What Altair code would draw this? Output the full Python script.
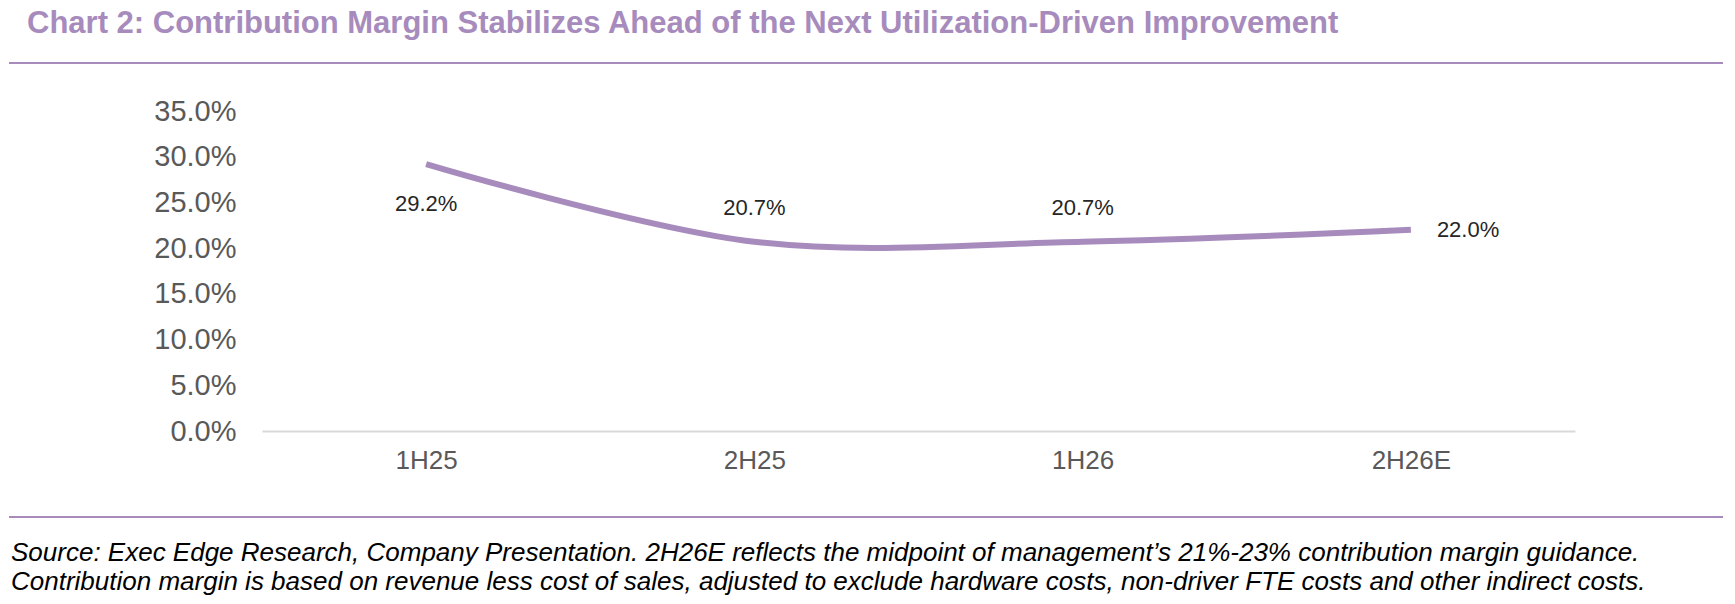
import altair as alt
import pandas as pd

periods = ["1H25", "2H25", "1H26", "2H26E"]
margin = [29.2, 20.7, 20.7, 22.0]
labels = ["29.2%", "20.7%", "20.7%", "22.0%"]

title_text = "Chart 2: Contribution Margin Stabilizes Ahead of the Next Utilization-Driven Improvement"
note_1 = ("Source: Exec Edge Research, Company Presentation. 2H26E reflects the midpoint of management\u2019s "
          "21%-23% contribution margin guidance.")
note_2 = ("Contribution margin is based on revenue less cost of sales, adjusted to exclude hardware costs, "
          "non-driver FTE costs and other indirect costs.")

df = pd.DataFrame({"period": periods, "margin": margin, "label": labels})

purple = "#a78bbd"
FONT = "Liberation Sans"

x = alt.X("period:N", sort=periods, title=None,
          scale=alt.Scale(paddingInner=0, paddingOuter=0),
          axis=alt.Axis(labelAngle=0, labelFontSize=26, labelColor="#595959", labelFont=FONT,
                        ticks=False, domain=True, domainColor="#d9d9d9", domainWidth=2,
                        labelPadding=16))
y = alt.Y("margin:Q", title=None, scale=alt.Scale(domain=[0, 35]),
          axis=alt.Axis(values=[0, 5, 10, 15, 20, 25, 30, 35], labelExpr="format(datum.value/100, '.1%')",
                        labelFontSize=29, labelColor="#595959", labelFont=FONT, grid=False,
                        ticks=False, domain=False, labelPadding=26))

base = alt.Chart(df)

line = base.mark_line(color=purple, strokeWidth=6, interpolate="cardinal").encode(x=x, y=y)

lbl_below = base.mark_text(fontSize=22, font=FONT, color="#262626", dy=40).encode(
    x=x, y=y, text="label:N").transform_filter(alt.datum.period == "1H25")
lbl_above = base.mark_text(fontSize=22, font=FONT, color="#262626", dy=-34).encode(
    x=x, y=y, text="label:N").transform_filter((alt.datum.period == "2H25") | (alt.datum.period == "1H26"))
lbl_right = base.mark_text(fontSize=22, font=FONT, color="#262626", dx=26, align="left").encode(
    x=x, y=y, text="label:N").transform_filter(alt.datum.period == "2H26E")

deco = pd.DataFrame({"t": [title_text]})
title = alt.Chart(deco).mark_text(fontSize=31, font=FONT, fontWeight="bold", color=purple,
                                   align="left", baseline="middle").encode(
    x=alt.value(-235), y=alt.value(-87), text="t:N")
top_rule = alt.Chart(deco).mark_rule(color=purple, strokeWidth=2).encode(
    x=alt.value(-253), x2=alt.value(1461), y=alt.value(-48))
bot_rule = alt.Chart(deco).mark_rule(color=purple, strokeWidth=2).encode(
    x=alt.value(-253), x2=alt.value(1461), y=alt.value(406))

notes = pd.DataFrame({"n1": [note_1], "n2": [note_2]})
foot1 = alt.Chart(notes).mark_text(fontSize=26, font=FONT, fontStyle="italic", color="#000000",
                                    align="left", baseline="middle").encode(
    x=alt.value(-251), y=alt.value(442), text="n1:N")
foot2 = alt.Chart(notes).mark_text(fontSize=26, font=FONT, fontStyle="italic", color="#000000",
                                    align="left", baseline="middle").encode(
    x=alt.value(-251), y=alt.value(471), text="n2:N")

chart = alt.layer(line, lbl_below, lbl_above, lbl_right, title, top_rule, bot_rule, foot1, foot2).properties(
    width=1313, height=320,
    autosize=alt.AutoSizeParams(type="none"),
    padding={"left": 254, "top": 103, "right": 150, "bottom": 170},
).configure(background="white", view=alt.ViewConfig(stroke=None))

chart.save("out.html", embed_options={"renderer": "svg", "actions": False})
